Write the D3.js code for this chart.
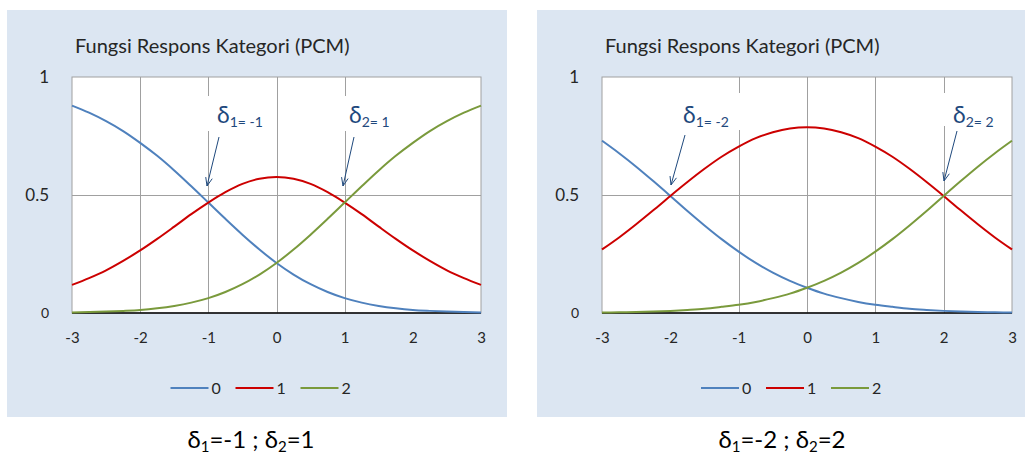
<!DOCTYPE html>
<html>
<head>
<meta charset="utf-8">
<script src="https://cdn.jsdelivr.net/npm/d3@7"></script>
<style>
  html, body { margin: 0; padding: 0; background: #ffffff; }
  svg { display: block; }
  text { font-family: Lato, "Open Sans", sans-serif; }
</style>
</head>
<body>
<svg id="chart" width="1025" height="455"></svg>
<script>
// Ability levels (theta) at which the category probabilities are plotted
const theta = [-3, -2.75, -2.5, -2.25, -2, -1.75, -1.5, -1.25, -1, -0.75, -0.5, -0.25, 0,
               0.25, 0.5, 0.75, 1, 1.25, 1.5, 1.75, 2, 2.25, 2.5, 2.75, 3];

// Panel A: delta1 = -1, delta2 = 1
const cat0A = [0.879, 0.849, 0.813, 0.771, 0.721, 0.666, 0.604, 0.537, 0.468, 0.399, 0.332, 0.269, 0.212,
               0.163, 0.122, 0.089, 0.063, 0.044, 0.030, 0.020, 0.013, 0.009, 0.006, 0.004, 0.002];
const cat1A = [0.119, 0.148, 0.181, 0.221, 0.265, 0.314, 0.366, 0.419, 0.468, 0.512, 0.547, 0.569, 0.576,
               0.569, 0.547, 0.512, 0.468, 0.419, 0.366, 0.314, 0.265, 0.221, 0.181, 0.148, 0.119];
const cat2A = [0.002, 0.004, 0.006, 0.009, 0.013, 0.020, 0.030, 0.044, 0.063, 0.089, 0.122, 0.163, 0.212,
               0.269, 0.332, 0.399, 0.468, 0.537, 0.604, 0.666, 0.721, 0.771, 0.813, 0.849, 0.879];

// Panel B: delta1 = -2, delta2 = 2
const cat0B = [0.730, 0.677, 0.620, 0.559, 0.496, 0.432, 0.371, 0.313, 0.260, 0.212, 0.171, 0.136, 0.107,
               0.082, 0.063, 0.047, 0.035, 0.026, 0.018, 0.013, 0.009, 0.006, 0.004, 0.003, 0.002];
const cat1B = [0.269, 0.320, 0.376, 0.435, 0.496, 0.555, 0.611, 0.662, 0.705, 0.741, 0.766, 0.782, 0.787,
               0.782, 0.766, 0.741, 0.705, 0.662, 0.611, 0.555, 0.496, 0.435, 0.376, 0.320, 0.269];
const cat2B = [0.002, 0.003, 0.004, 0.006, 0.009, 0.013, 0.018, 0.026, 0.035, 0.047, 0.063, 0.082, 0.107,
               0.136, 0.171, 0.212, 0.260, 0.313, 0.371, 0.432, 0.496, 0.559, 0.620, 0.677, 0.730];

const categories = ["0", "1", "2"];
const xTicks = [-3, -2, -1, 0, 1, 2, 3];
const yTicks = [0, 0.5, 1];
const yTickLabels = ["0", "0.5", "1"];
const gridA = [-2, -1, 0, 1];
const gridB = [-1, 0, 1, 2];
const deltaA = [-1, 1];
const deltaB = [-2, 2];

const titleText = "Fungsi Respons Kategori (PCM)";
const colors = ["#4f81bd", "#cc0000", "#7a9a3c"];

const svg = d3.select("#chart");

const panels = [
  { bg: [7, 10, 500, 407], plot: [72, 77, 481, 313], series: [cat0A, cat1A, cat2A],
    grid: gridA, deltas: deltaA, captionX: 251,
    notes: [ { lx: 217, box: [203, 96, 268, 131], from: [219, 137], to: [207, 186] },
             { lx: 349, box: [340, 96, 402, 131], from: [354, 137], to: [343, 186] } ] },
  { bg: [537, 10, 488, 407], plot: [602, 77, 1012, 313], series: [cat0B, cat1B, cat2B],
    grid: gridB, deltas: deltaB, captionX: 782,
    notes: [ { lx: 683, box: [660, 93, 742, 130], from: [685, 135], to: [671, 185] },
             { lx: 953, box: [938, 93, 1000, 126], from: [957, 131], to: [944, 181] } ] }
];

panels.forEach(p => {
  const g = svg.append("g");
  const [bx, by, bw, bh] = p.bg;
  const [x0, y0, x1, y1] = p.plot;

  g.append("rect").attr("x", bx).attr("y", by).attr("width", bw).attr("height", bh)
    .attr("fill", "#dce6f2");

  const x = d3.scaleLinear().domain([-3, 3]).range([x0, x1]);
  const y = d3.scaleLinear().domain([0, 1]).range([y1, y0]);

  // plot area
  g.append("rect").attr("x", x0).attr("y", y0).attr("width", x1 - x0).attr("height", y1 - y0)
    .attr("fill", "#ffffff").attr("stroke", "#a0a0a0").attr("stroke-width", 1);

  // gridlines
  g.selectAll(".vg").data(p.grid).enter().append("line")
    .attr("x1", d => Math.round(x(d)) + 0.5).attr("x2", d => Math.round(x(d)) + 0.5)
    .attr("y1", y0).attr("y2", y1)
    .attr("stroke", "#a0a0a0").attr("stroke-width", 1);
  g.selectAll(".hg").data([0.5]).enter().append("line")
    .attr("x1", x0).attr("x2", x1)
    .attr("y1", d => Math.round(y(d)) + 0.5).attr("y2", d => Math.round(y(d)) + 0.5)
    .attr("stroke", "#a0a0a0").attr("stroke-width", 1);

  // label boxes (white) behind the delta annotations
  p.notes.forEach(n => {
    g.append("rect").attr("x", n.box[0]).attr("y", n.box[1])
      .attr("width", n.box[2] - n.box[0]).attr("height", n.box[3] - n.box[1])
      .attr("fill", "#ffffff");
  });

  // x axis line at 0
  g.append("line").attr("x1", x0).attr("x2", x1).attr("y1", y(0)).attr("y2", y(0))
    .attr("stroke", "#000000").attr("stroke-width", 1.5);

  // x axis labels
  const xAxis = d3.axisBottom(x).tickValues(xTicks).tickSize(0).tickFormat(d3.format("d"));
  const xa = g.append("g").attr("transform", `translate(0,${y1})`).call(xAxis);
  xa.select(".domain").remove();
  xa.selectAll("text").attr("dy", null).attr("y", 30).attr("font-size", 15)
    .attr("fill", "#262626").attr("font-family", "Lato, sans-serif")
    .text(d => d < 0 ? "-" + Math.abs(d) : String(d));

  // y axis labels
  const yAxis = d3.axisLeft(y).tickValues(yTicks).tickSize(0)
    .tickFormat((d, i) => yTickLabels[i]);
  const ya = g.append("g").attr("transform", `translate(${x0 - 20},0)`).call(yAxis);
  ya.select(".domain").remove();
  ya.selectAll("text").attr("font-size", d => d === 0 ? 14 : 17)
    .attr("fill", "#262626").attr("font-family", "Lato, sans-serif")
    .attr("dy", "0.35em");

  // curves
  const line = d3.line().x((d, i) => x(theta[i])).y(d => y(d)).curve(d3.curveMonotoneX);
  p.series.forEach((s, k) => {
    g.append("path").datum(s).attr("d", line)
      .attr("fill", "none").attr("stroke", colors[k]).attr("stroke-width", 2)
      .attr("stroke-linejoin", "round");
  });

  // title
  g.append("text").attr("x", x0 + 3).attr("y", 53).attr("font-size", 20)
    .attr("fill", "#262626").text(titleText);

  // delta annotations with arrows
  p.notes.forEach((n, k) => {
    const t = g.append("text").attr("x", n.lx).attr("y", 123).attr("fill", "#1f497d")
      .attr("font-size", 23);
    t.append("tspan").text("δ");
    t.append("tspan").attr("font-size", 14).attr("dy", 4)
      .text(`${k + 1}= ${p.deltas[k]}`);
    const [fx, fy] = n.from, [tx, ty] = n.to;
    g.append("line").attr("x1", fx).attr("y1", fy).attr("x2", tx).attr("y2", ty)
      .attr("stroke", "#1f497d").attr("stroke-width", 1);
    const ang = Math.atan2(ty - fy, tx - fx);
    const L = 9, spread = 0.38;
    [ang + Math.PI - spread, ang + Math.PI + spread].forEach(a => {
      g.append("line").attr("x1", tx).attr("y1", ty)
        .attr("x2", tx + L * Math.cos(a)).attr("y2", ty + L * Math.sin(a))
        .attr("stroke", "#1f497d").attr("stroke-width", 1);
    });
  });

  // legend
  const lg = g.append("g").attr("transform", `translate(${(x0 + x1) / 2 - 106},388)`);
  categories.forEach((c, k) => {
    lg.append("line").attr("x1", k * 65).attr("x2", k * 65 + 38).attr("y1", 0).attr("y2", 0)
      .attr("stroke", colors[k]).attr("stroke-width", 2);
    lg.append("text").attr("x", k * 65 + 41).attr("y", 0).attr("dy", "0.35em")
      .attr("font-size", 16).attr("fill", "#262626").text(c);
  });

  // caption under the panel
  const cap = g.append("text").attr("x", p.captionX).attr("y", 448).attr("text-anchor", "middle")
    .attr("font-family", "'Liberation Serif', 'DejaVu Serif', serif").attr("font-size", 24)
    .attr("fill", "#000000");
  cap.append("tspan").text("δ");
  cap.append("tspan").attr("font-size", 15).attr("dy", 4).text("1");
  cap.append("tspan").attr("dy", -4).text(`=${p.deltas[0]} ; δ`);
  cap.append("tspan").attr("font-size", 15).attr("dy", 4).text("2");
  cap.append("tspan").attr("dy", -4).text(`=${p.deltas[1]}`);
});
</script>
</body>
</html>
